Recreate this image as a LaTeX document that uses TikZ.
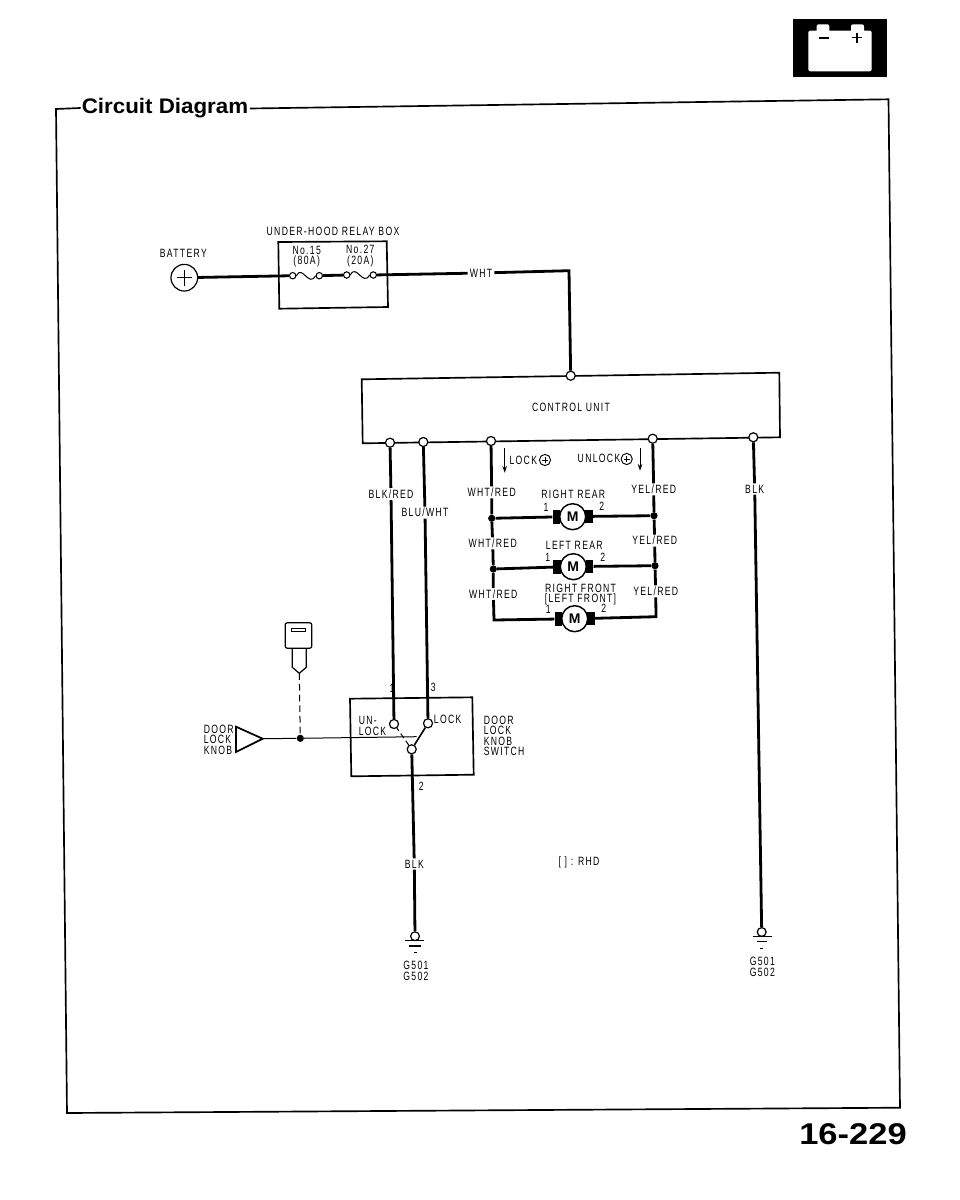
\documentclass[tikz,border=0pt]{standalone}
\usepackage{fontspec}
\setmainfont{Liberation Sans}
\newfontfamily\lab[FakeStretch=0.72,LetterSpace=11]{Liberation Sans}
\usetikzlibrary{arrows.meta}
\tikzset{
  wire/.style={line width=2.1pt},
  boxline/.style={line width=1.25pt},
  thinline/.style={line width=0.75pt},
  term/.style={circle,draw,fill=white,inner sep=0pt,minimum size=6.8pt,line width=0.9pt},
  fuseterm/.style={circle,draw,fill=white,inner sep=0pt,minimum size=4.8pt,line width=0.8pt},
  dotj/.style={circle,fill=black,inner sep=0pt,minimum size=5.4pt},
  lbl/.style={font=\lab\fontsize{9}{7.8}\selectfont,inner sep=0.6pt,align=center},
  lbll/.style={lbl,align=left},
  wl/.style={lbl,fill=white,inner sep=1pt},
  motor/.style={circle,draw,fill=white,inner sep=0pt,minimum size=19.5pt,line width=1.1pt,font=\bfseries\fontsize{10.5}{10}\selectfont},
  brush/.style={fill=black,inner sep=0pt,minimum width=5.5pt,minimum height=10pt},
  tip/.style={-{Stealth[length=5pt,width=3.4pt]},line width=0.75pt},
  smallplus/.style={circle,draw,inner sep=0pt,minimum size=8.4pt,line width=0.7pt},
}
\begin{document}
\begin{tikzpicture}[x=0.75pt,y=-0.75pt]
\useasboundingbox (0,0) rectangle (960,1200);
\fill[white] (0,0) rectangle (960,1200);

% battery icon
\fill[black] (792.7,19) rectangle (886.7,76.7);
\fill[white,rounded corners=1.5pt] (808.3,30.7) rectangle (871.7,71.3);
\fill[white,rounded corners=1.5pt] (816.7,24.3) rectangle (829.3,33);
\fill[white,rounded corners=1.5pt] (851,24.3) rectangle (864,33);
\draw[line width=1.2pt] (819,37.7) -- (829,37.7);
\draw[line width=1.3pt] (852.3,37.5) -- (862.3,37.5) (857.3,32.5) -- (857.3,42.5);

% frame and title
\node[font=\bfseries\fontsize{15.8}{16}\selectfont,inner sep=1pt,xscale=1.06] (title) at (165,108.5) {Circuit Diagram};
\coordinate (fA) at (56,109);
\coordinate (fB) at (888.5,99.3);
\coordinate (fC) at (900,1107.7);
\coordinate (fD) at (67,1113);
\draw[boxline,line join=miter] (title.west) -- (80,108) -- (fA) -- (fD) -- (fC) -- (fB) -- (title.east);
\node[font=\bfseries\fontsize{22.5}{23}\selectfont,inner sep=0pt,xscale=1.15] (page) at (853,1134.5) {16-229};

% battery and relay box
\node[lbl] (batt) at (183.3,253) {BATTERY};
\node[circle,draw,line width=0.9pt,minimum size=20pt,inner sep=0pt] (bat) at (184.3,277.7) {};
\draw[line width=0.7pt] (176.5,277.7) -- (192,277.7) (184.3,270) -- (184.3,285.5);
\node[lbl] (relayt) at (333,231.7) {UNDER-HOOD RELAY BOX};
\draw[boxline] (278.3,242) -- (386.7,241.3) -- (388,307) -- (279.3,308.7) -- cycle;
\node[lbl] (n15) at (306.7,256.7) {No.15\\(80A)};
\node[lbl] (n27) at (360.3,256) {No.27\\(20A)};
\node[fuseterm] (f1a) at (292.7,275.7) {};
\node[fuseterm] (f1b) at (319.3,275.7) {};
\node[fuseterm] (f2a) at (346.7,275) {};
\node[fuseterm] (f2b) at (373.3,275) {};
\draw[thinline] (f1a.east) .. controls (302,264) and (309,288) .. (f1b.west);
\draw[thinline] (f2a.east) .. controls (356,263) and (363,287) .. (f2b.west);
\draw[wire] (bat) -- (f1a);
\draw[wire] (f1b) -- (f2a);

% control unit
\draw[boxline] (361.7,379.3) -- (779.3,372.7) -- (780,437.3) -- (362.7,443.3) -- cycle;
\node[lbl] (cu) at (571,407.7) {CONTROL UNIT};
\node[term] (cuP) at (570.7,375.7) {};
\node[term] (j1) at (390,442.7) {};
\node[term] (j2) at (423.3,442) {};
\node[term] (j3) at (491,441) {};
\node[term] (j4) at (652.7,438.7) {};
\node[term] (j5) at (753.3,437.3) {};

\node[lbl,fill=white,inner sep=1.5pt] (wht) at (481,273) {WHT};
\coordinate (bend) at (569,270.7);
\draw[wire,line join=miter] (f2b) -- (wht) -- (bend) -- (cuP);

\node[lbl] (lockt) at (523.3,460) {LOCK};
\node[smallplus] (lockp) at (545,460) {};
\draw[line width=0.7pt] (541.8,460) -- (548.2,460) (545,456.8) -- (545,463.2);
\node[lbl] (unlockt) at (599,458.7) {UNLOCK};
\node[smallplus] (unlockp) at (626.7,459) {};
\draw[line width=0.7pt] (623.5,459) -- (629.9,459) (626.7,455.8) -- (626.7,462.2);
\draw[tip] (504.7,448.3) -- (504.7,472.7);
\draw[tip] (640,448.3) -- (640,470.7);

% motors
\node[lbl] (rr) at (573.3,494) {RIGHT REAR};
\node[lbl] (lr) at (574.3,545.3) {LEFT REAR};
\node[lbl] (rf) at (580.5,594.7) {RIGHT FRONT\\{[}LEFT FRONT{]}};
\node[brush] (b1l) at (556.3,516.9) {};
\node[brush] (b1r) at (589,516.4) {};
\node[motor] (m1) at (572.7,516.7) {M};
\node[brush] (b2l) at (557,567) {};
\node[brush] (b2r) at (589.6,566.4) {};
\node[motor] (m2) at (573.3,566.7) {M};
\node[brush] (b3l) at (558.4,619) {};
\node[brush] (b3r) at (591,618.4) {};
\node[motor] (m3) at (574.7,618.7) {M};
\node[lbl] (p11) at (546,507.3) {1};
\node[lbl] (p12) at (601.7,506.7) {2};
\node[lbl] (p21) at (547.7,557.7) {1};
\node[lbl] (p22) at (602.7,557) {2};
\node[lbl] (p31) at (548.3,609) {1};
\node[lbl] (p32) at (603.7,608.3) {2};

\node[dotj] (dl1) at (491.7,518.3) {};
\node[dotj] (dl2) at (493.3,569) {};
\coordinate (cl3) at (494,620);
\node[dotj] (dr1) at (654,515.7) {};
\node[dotj] (dr2) at (655,565.7) {};
\coordinate (cr3) at (656,616.7);

\node[wl] (wr1) at (491.7,492.3) {WHT/RED};
\node[wl] (wr2) at (492.7,543.3) {WHT/RED};
\node[wl] (wr3) at (493.3,594) {WHT/RED};
\node[wl] (yr1) at (653.7,489.3) {YEL/RED};
\node[wl] (yr2) at (654.7,540.7) {YEL/RED};
\node[wl] (yr3) at (655.7,591.3) {YEL/RED};
\draw[wire,line join=miter] (j3) -- (wr1) -- (dl1) -- (wr2) -- (dl2) -- (wr3) -- (cl3) -- (b3l);
\draw[wire,line join=miter] (j4) -- (yr1) -- (dr1) -- (yr2) -- (dr2) -- (yr3) -- (cr3) -- (b3r);
\draw[wire] (dl1) -- (b1l);
\draw[wire] (b1r) -- (dr1);
\draw[wire] (dl2) -- (b2l);
\draw[wire] (b2r) -- (dr2);

% switch
\draw[boxline] (350,698.7) -- (472.3,697.3) -- (473.7,774.7) -- (351.3,776.3) -- cycle;
\node[term] (tU) at (394,724) {};
\node[term] (tL) at (428,723.3) {};
\node[term] (tP) at (411.7,749.3) {};
\node[wl] (br) at (391,494) {BLK/RED};
\node[wl] (bw) at (425,512.7) {BLU/WHT};
\draw[wire] (j1) -- (br) -- (tU);
\draw[wire] (j2) -- (bw) -- (tL);
\draw[line width=1.2pt] (tP) -- (tL);
\draw[thinline,dash pattern=on 4pt off 2.5pt] (tP) -- (tU);
\node[lbl] (p1) at (392,688) {1};
\node[lbl] (p3) at (433.3,687.7) {3};
\node[lbl] (p2) at (421.3,786) {2};
\node[lbll] (unl) at (372.5,726) {UN-\\LOCK};
\node[lbl] (lk) at (447.7,719.3) {LOCK};
\node[lbll,anchor=west] (dlks) at (482.7,735.8) {DOOR\\LOCK\\KNOB\\SWITCH};
\node[lbll,anchor=west] (dlk) at (202.7,739.5) {DOOR\\LOCK\\KNOB};

% knob and key
\draw[line width=1.3pt,line join=miter] (236,726.7) -- (262.7,738.7) -- (236,752) -- cycle;
\coordinate (knobtip) at (262.7,738.7);
\node[dotj] (kd) at (300.3,738.3) {};
\coordinate (armpt) at (416.7,736.7);
\draw[thinline] (knobtip) -- (kd) -- (armpt);
\node[draw,rounded corners=1.5pt,line width=0.9pt,minimum width=20pt,minimum height=19pt,inner sep=0pt] (keyhead) at (298.5,635.5) {};
\draw[line width=0.7pt] (291.3,628.7) rectangle (305.7,631.7);
\coordinate (keytip) at (299.3,673.3);
\draw[line width=0.9pt,line join=miter] (292.3,648.3) -- (292.3,667.3) -- (keytip) -- (306.3,667.3) -- (306.3,648.3);
\draw[thinline,dash pattern=on 5pt off 3pt] (keytip) -- (kd);

% grounds
\node[term,minimum size=6.6pt] (gL) at (415,936.2) {};
\node[term,minimum size=6.6pt] (gR) at (761.7,932) {};
\draw[thinline] (405,940) -- (424,940);
\draw[line width=0.9pt] (409.3,946) -- (420.7,946);
\draw[thinline] (413.5,952.7) -- (416.5,952.7);
\draw[thinline] (752.7,936) -- (771.7,936);
\draw[line width=0.9pt] (756.7,941.7) -- (766.7,941.7);
\draw[thinline] (760,948) -- (763,948);
\node[wl] (bkL) at (414.3,864) {BLK};
\node[wl] (bkR) at (754.7,489) {BLK};
\draw[wire] (tP) -- (bkL) -- (gL);
\draw[wire] (j5) -- (bkR) -- (gR);
\node[lbl] (gnL) at (416,971) {G501\\G502};
\node[lbl] (gnR) at (762.3,966.8) {G501\\G502};
\node[lbl] (rhd) at (579,862) {[ ] : RHD};
\end{tikzpicture}
\end{document}
